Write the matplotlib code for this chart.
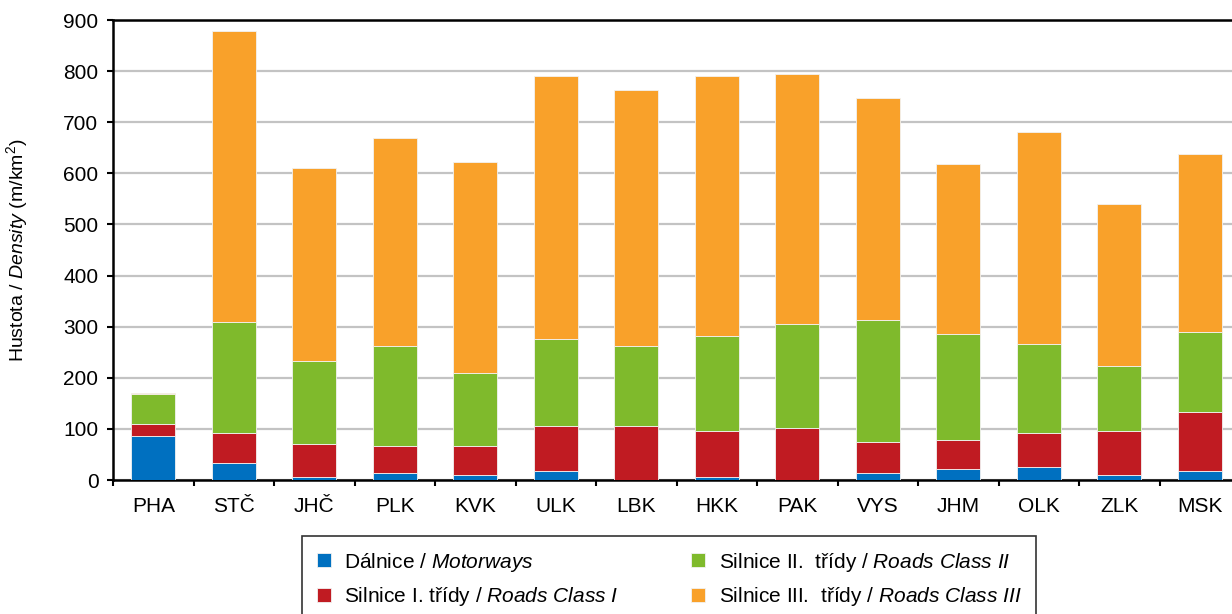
import matplotlib
matplotlib.use("Agg")
import matplotlib.pyplot as plt
import numpy as np

plt.rcParams['font.family'] = ['Liberation Sans', 'DejaVu Sans']
plt.rcParams['mathtext.fontset'] = 'custom'
plt.rcParams['mathtext.rm'] = 'Liberation Sans'
plt.rcParams['mathtext.it'] = 'Liberation Sans:italic'

regions = ["PHA", "STČ", "JHČ", "PLK", "KVK", "ULK", "LBK", "HKK", "PAK", "VYS", "JHM", "OLK", "ZLK", "MSK"]
motorways = [87, 33, 5, 14, 10, 18, 0, 5, 0, 14, 21, 25, 9, 17]
class1 = [23, 58, 66, 53, 57, 88, 106, 90, 102, 61, 58, 66, 86, 117]
class2 = [59, 219, 161, 196, 142, 169, 157, 187, 204, 239, 207, 176, 129, 156]
class3 = [1, 569, 379, 406, 413, 515, 500, 508, 488, 433, 332, 414, 316, 348]

labels = ["Dálnice / $\\mathit{Motorways}$",
          "Silnice I. třídy / $\\mathit{Roads\\ Class\\ I}$",
          "Silnice II.  třídy / $\\mathit{Roads\\ Class\\ II}$",
          "Silnice III.  třídy / $\\mathit{Roads\\ Class\\ III}$"]
colors = ["#0070C0", "#C01B22", "#7FBA2C", "#F9A12A"]

W, H = 1232, 614
fig = plt.figure(figsize=(W / 100, H / 100), dpi=100)
axw = 14 * 80.5
ax = fig.add_axes([113 / W, (H - 480) / H, axw / W, 460 / H])

x = np.arange(len(regions))
bottom = np.zeros(len(regions))
handles = []
for vals, c, lab in zip([motorways, class1, class2, class3], colors, labels):
    v = np.array(vals, dtype=float)
    b = ax.bar(x, v, width=0.55, bottom=bottom, color=c, edgecolor="#F2F2F2",
               linewidth=0.6, label=lab, zorder=3)
    handles.append(b)
    bottom += v

ax.set_xlim(-0.5, len(regions) - 0.5)
ax.set_ylim(0, 900)
ax.set_yticks(np.arange(0, 901, 100))
ax.yaxis.grid(True, color="#C3C3C3", linewidth=1.6, zorder=0)
ax.set_axisbelow(True)

ax.set_xticks(x)
ax.set_xticklabels(regions, fontsize=15)
ax.set_xticks(np.arange(-0.5, len(regions), 1), minor=True)
ax.tick_params(axis='x', which='major', length=0, pad=12)
ax.tick_params(axis='x', which='minor', length=4.5, width=1.5, direction='out')
ax.tick_params(axis='y', labelsize=15, length=4.5, width=1.5, direction='out', pad=6)

for s in ["left", "bottom", "top", "right"]:
    ax.spines[s].set_linewidth(1.8)
    ax.spines[s].set_color("black")

ax.set_ylabel("Hustota / $\\mathit{Density}$ (m/km$^2$)", fontsize=14)
ax.yaxis.set_label_coords((30 - 113) / axw, 0.5)

leg = fig.legend(handles=handles, loc='upper left', bbox_to_anchor=(302 / W, 1 - 536 / H),
                 bbox_transform=fig.transFigure, ncol=2, fontsize=15, frameon=True,
                 fancybox=False, edgecolor="black", handlelength=0.67, handleheight=0.67,
                 handletextpad=0.67, columnspacing=3.45, labelspacing=0.55,
                 borderpad=0.7, borderaxespad=0)
leg.get_frame().set_linewidth(1.2)

fig.savefig("out.png", dpi=100)
